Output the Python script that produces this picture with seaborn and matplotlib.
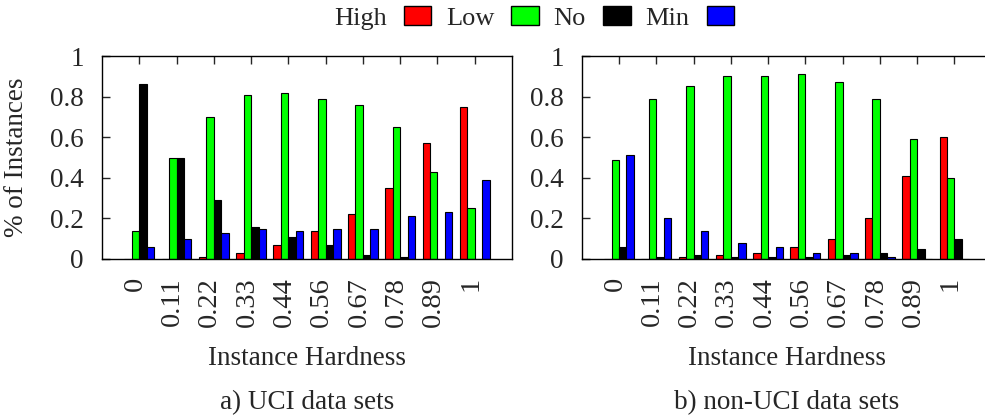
import pandas as pd
import matplotlib
matplotlib.use("Agg")
import matplotlib.pyplot as plt
import matplotlib.patches as mpatches
import matplotlib.transforms as mtransforms
import seaborn as sns

# Data
hardness = ["0", "0.11", "0.22", "0.33", "0.44", "0.56", "0.67", "0.78", "0.89", "1"]
levels = ["High", "Low", "No", "Min"]
colors = ["#ff0000", "#00ff00", "#000000", "#0000ff"]

uci_high = [0.00, 0.00, 0.01, 0.03, 0.07, 0.14, 0.22, 0.35, 0.57, 0.75]
uci_low = [0.14, 0.50, 0.70, 0.81, 0.82, 0.79, 0.76, 0.65, 0.43, 0.25]
uci_no = [0.86, 0.50, 0.29, 0.16, 0.11, 0.07, 0.02, 0.01, 0.00, 0.00]
uci_min = [0.06, 0.10, 0.13, 0.15, 0.14, 0.15, 0.15, 0.21, 0.23, 0.39]

non_high = [0.00, 0.00, 0.01, 0.02, 0.03, 0.06, 0.10, 0.20, 0.41, 0.60]
non_low = [0.49, 0.79, 0.85, 0.90, 0.90, 0.91, 0.87, 0.79, 0.59, 0.40]
non_no = [0.06, 0.01, 0.02, 0.01, 0.01, 0.01, 0.02, 0.03, 0.05, 0.10]
non_min = [0.51, 0.20, 0.14, 0.08, 0.06, 0.03, 0.03, 0.01, 0.00, 0.00]

yticks = [0, 0.2, 0.4, 0.6, 0.8, 1]
ytick_labels = ["0", "0.2", "0.4", "0.6", "0.8", "1"]


def to_long(high, low, no, mn):
    df = pd.DataFrame({"Hardness": hardness, "High": high, "Low": low, "No": no, "Min": mn})
    return df.melt(id_vars="Hardness", var_name="Level", value_name="Share")


sns.set_style("ticks")
plt.rcParams["font.family"] = ["Liberation Serif", "DejaVu Serif"]
plt.rcParams["font.size"] = 19.5

W, H = 985, 419
fig = plt.figure(figsize=(W / 100, H / 100), dpi=100)
ax1 = fig.add_axes([102 / W, 160 / H, 410 / W, 203 / H])
ax2 = fig.add_axes([581.7 / W, 160 / H, 410 / W, 203 / H])

panels = [
    (ax1, to_long(uci_high, uci_low, uci_no, uci_min), "a) UCI data sets"),
    (ax2, to_long(non_high, non_low, non_no, non_min), "b) non-UCI data sets"),
]

for ax, df, caption in panels:
    sns.barplot(data=df, x="Hardness", y="Share", hue="Level", order=hardness,
                hue_order=levels, palette=colors, saturation=1, edgecolor="black",
                linewidth=0.8, errorbar=None, legend=False, ax=ax)
    ax.set_xlim(-1, 10)
    ax.set_ylim(0, 1)
    ax.set_yticks(yticks, labels=ytick_labels)
    ax.tick_params(axis="y", direction="in", length=6, width=1, pad=13, left=True, right=False)
    ax.tick_params(axis="x", direction="in", length=6, width=1, pad=13, bottom=False,
                   top=True, labelrotation=90, labelsize=20.5)
    for sp in ax.spines.values():
        sp.set_visible(True)
        sp.set_linewidth(1.0)
        sp.set_color("black")
    offset = mtransforms.ScaledTranslation(-0.04, 0, fig.dpi_scale_trans)
    for lab in ax.get_xticklabels():
        lab.set_transform(lab.get_transform() + offset)
    ax.set_xlabel("Instance Hardness")
    ax.xaxis.set_label_coords(0.5, (259 - 358) / 203)
    ax.xaxis.label.set_verticalalignment("center")
    ax.set_ylabel("")
    ax.text(0.5, (259 - 403) / 203, caption, transform=ax.transAxes,
            ha="center", va="center")

ax1.set_ylabel("% of Instances")
ax1.yaxis.set_label_coords((17 - 102) / 410, 0.5)
ax1.yaxis.label.set_verticalalignment("center")

handles = [mpatches.Patch(facecolor=c, edgecolor="black", linewidth=1) for c in colors]
fig.legend(handles, levels, loc="center", bbox_to_anchor=(534 / W, 1 - 18 / H), ncol=4,
           frameon=False, markerfirst=False, handlelength=1.05, handleheight=0.7,
           handletextpad=0.65, columnspacing=0.55, fontsize=19, borderaxespad=0)

fig.savefig("out.png", dpi=100)
